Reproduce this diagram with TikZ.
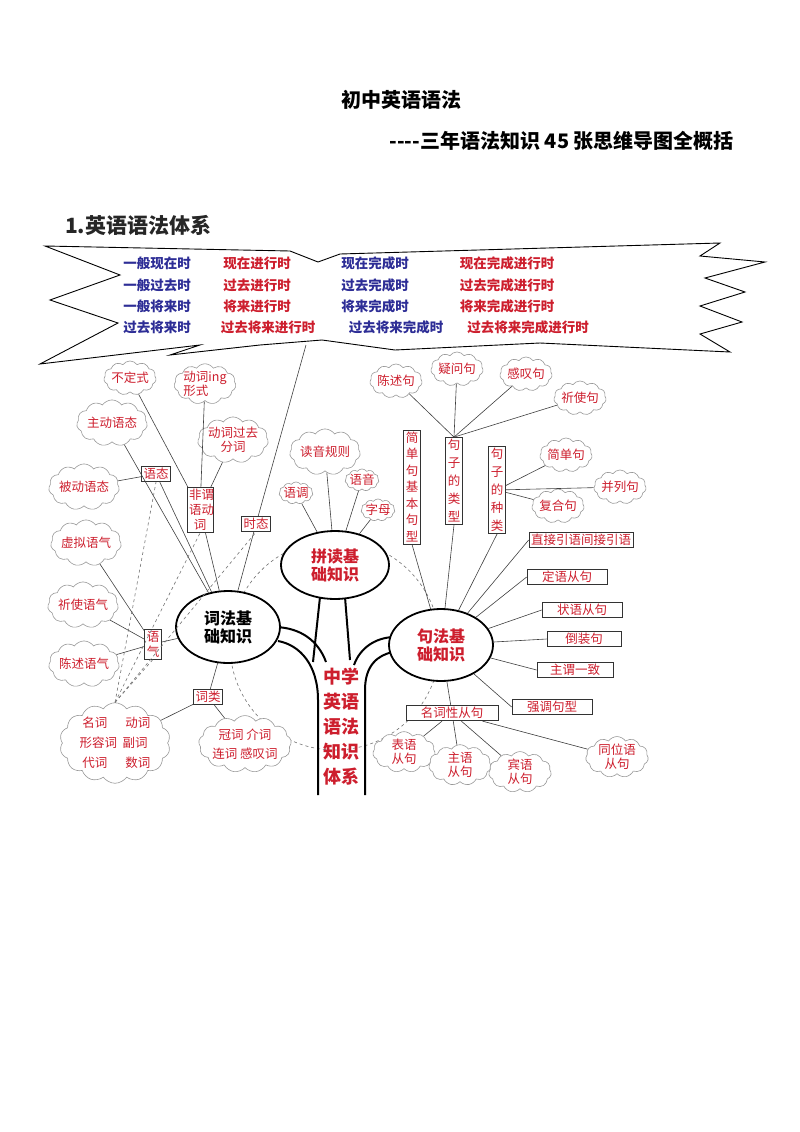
\documentclass[tikz,border=0pt]{standalone}
\usepackage{fontspec}
\setmainfont{Liberation Sans}
\newfontfamily\cjk{Noto Sans CJK SC}
\usetikzlibrary{shapes.symbols,shapes.geometric}
\definecolor{rd}{RGB}{205,30,45}
\definecolor{bl}{RGB}{45,45,150}
\tikzset{
 every node/.style={font=\cjk\fontsize{12.5}{14}\selectfont, text=rd, inner sep=1pt},
 cl/.style={cloud, cloud puffs=11, cloud puff arc=110, aspect=1.8, draw=gray!80, line width=0.6pt, inner sep=-1pt, fill=white},
 bx/.style={draw=black!80, line width=0.7pt, inner sep=2pt, fill=white},
 vb/.style={bx, align=center, text width=1.3em, font=\cjk\fontsize{12.5}{15}\selectfont},
 el/.style={ellipse, draw=black, line width=1.8pt, fill=white, align=center, font=\cjk\bfseries\fontsize{16}{18}\selectfont, minimum width=104pt, minimum height=72pt, inner sep=0pt},
 ln/.style={draw=black!75, line width=0.6pt},
 dl/.style={draw=black!55, line width=0.6pt, dashed},
 tk/.style={draw=black, line width=2pt},
 tb/.style={text=bl, font=\cjk\bfseries\fontsize{13.5}{15}\selectfont},
 tr/.style={text=rd, font=\cjk\bfseries\fontsize{13.5}{15}\selectfont},
}
\begin{document}
\begin{tikzpicture}[x=1pt,y=-1pt]
\useasboundingbox[fill=white] (0,0) rectangle (800,1132);
% titles
\node[text=black, font=\cjk\bfseries\fontsize{20}{22}\selectfont] (t1) at (401,100) {初中英语语法};
\node[text=black, font=\cjk\bfseries\fontsize{20}{22}\selectfont, anchor=east] (t2) at (735,141) {----三年语法知识 45 张思维导图全概括};
\node[text=black!85, font=\cjk\bfseries\fontsize{21}{23}\selectfont, anchor=west] (t3) at (64,225) {1.英语语法体系};
% bubble
\draw[black, line width=0.9pt, fill=white] (45,246) -- (290,251) -- (318,262) -- (340,254) -- (720,243) -- (700,256) -- (765,262) -- (705,278) -- (745,292) -- (700,306) -- (742,322) -- (700,334) -- (730,352) -- (540,343) -- (395,350) -- (322,340) -- (260,345) -- (170,355) -- (200,345) -- (40,364) -- (118,323) -- (50,300) -- (120,275) -- cycle;
\node[tb] (a1) at (157,263) {一般现在时}; \node[tr] (b1) at (257,263) {现在进行时}; \node[tb] (c1) at (375,263) {现在完成时}; \node[tr] (d1) at (507,263) {现在完成进行时};
\node[tb] (a2) at (157,285) {一般过去时}; \node[tr] (b2) at (257,285) {过去进行时}; \node[tb] (c2) at (375,285) {过去完成时}; \node[tr] (d2) at (507,285) {过去完成进行时};
\node[tb] (a3) at (157,306) {一般将来时}; \node[tr] (b3) at (257,306) {将来进行时}; \node[tb] (c3) at (375,306) {将来完成时}; \node[tr] (d3) at (507,306) {将来完成进行时};
\node[tb] (a4) at (157,327) {过去将来时}; \node[tr] (b4) at (268,327) {过去将来进行时}; \node[tb] (c4) at (396,327) {过去将来完成时}; \node[tr] (d4) at (528,327) {过去将来完成进行时};
\coordinate (bub) at (306,345);
% dashed circle
\draw[dl] (335,645) circle (105);
% trunk
\draw[tk] (276,627) .. controls (300,628) and (318,640) .. (326,662);
\draw[tk] (278,641) .. controls (300,645) and (318,665) .. (318,700) -- (318,795);
\draw[tk] (320,597) -- (313,662);
\draw[tk] (345,597) -- (350,660);
\draw[tk] (393,637) .. controls (375,638) and (360,648) .. (354,665);
\draw[tk] (393,652) .. controls (378,655) and (365,665) .. (365,690) -- (365,795);
\node[align=center, font=\cjk\bfseries\fontsize{18}{25}\selectfont] (trunk) at (341,727) {中学\\英语\\语法\\知识\\体系};
% ellipses
\node[el, text=black] (cf) at (228,627) {词法基\\础知识};
\node[el, minimum width=108pt, minimum height=68pt] (pd) at (335,565) {拼读基\\础知识};
\node[el] (jf) at (441,645) {句法基\\础知识};
% left branch
\node[bx] (yt) at (156,474) {语态};
\node[cl] (zd) at (112,423) {主动语态};
\node[cl] (bd) at (84,487) {被动语态};
\node[vb, text width=2.2em] (fw) at (200,510) {非谓\\语动\\词};
\node[cl] (bds) at (130,378) {不定式};
\node[cl, align=left] (ing) at (205,384) {动词ing\\形式};
\node[cl, align=center] (gq) at (233,440) {动词过去\\分词};
\node[bx] (st) at (256,524) {时态};
\node[vb] (yq) at (153,644) {语\\气};
\node[cl] (xn) at (86,543) {虚拟语气};
\node[cl] (qs) at (83,605) {祈使语气};
\node[cl] (cs) at (84,664) {陈述语气};
\node[bx] (cl1) at (208,697) {词类};
\node[cl, cloud puffs=14, aspect=1.5, align=left, font=\cjk\fontsize{12.5}{20}\selectfont] (big1) at (115,743) {\ 名词\quad\ \ 动词\\形容词\ \ 副词\\\ 代词\quad\ \ 数词};
\node[cl, cloud puffs=13, aspect=1.9, align=center, font=\cjk\fontsize{12.5}{19}\selectfont] (big2) at (245,744) {冠词\ 介词\\连词\ 感叹词};
\draw[ln] (zd) -- (cf); \draw[ln] (bd) -- (yt); \draw[ln] (yt) -- (cf);
\draw[ln] (bds) -- (fw); \draw[ln] (ing) -- (fw); \draw[ln] (gq) -- (fw); \draw[ln] (fw) -- (cf);
\draw[ln] (bub) -- (st); \draw[ln] (st) -- (cf);
\draw[ln] (xn) -- (yq); \draw[ln] (qs) -- (yq); \draw[ln] (cs) -- (yq); \draw[ln] (yq) -- (cf);
\draw[ln] (cf) -- (cl1); \draw[ln] (cl1) -- (big1); \draw[ln] (cl1) -- (big2);
\draw[dl] (big1.north) -- (yt.south); \draw[dl] (big1.north) -- (fw.south); \draw[dl] (big1.north) -- (st.south); \draw[dl] (big1.north) -- (yq.south);
% pindu
\node[cl] (dy) at (325,452) {读音规则};
\node[cl] (ydc) at (296,493) {语调};
\node[cl] (yy) at (362,480) {语音};
\node[cl] (zm) at (378,510) {字母};
\foreach \n in {dy,ydc,yy,zm} \draw[ln] (\n) -- (pd);
% jufa
\node[vb, font=\cjk\fontsize{12.5}{16.5}\selectfont] (jbj) at (412,487) {简\\单\\句\\基\\本\\句\\型};
\node[vb, font=\cjk\fontsize{12.5}{18}\selectfont] (jlx) at (454,481) {句\\子\\的\\类\\型};
\node[vb, font=\cjk\fontsize{12.5}{18}\selectfont] (jzl) at (497,490) {句\\子\\的\\种\\类};
\node[cl] (csj) at (396,381) {陈述句};
\node[cl] (ywj) at (457,369) {疑问句};
\node[cl] (gtj) at (526,374) {感叹句};
\node[cl] (qsj) at (580,398) {祈使句};
\node[cl] (jdj) at (566,455) {简单句};
\node[cl] (blj) at (620,487) {并列句};
\node[cl] (fhj) at (558,506) {复合句};
\foreach \n in {csj,ywj,gtj,qsj} \draw[ln] (\n) -- (jlx.north);
\foreach \n in {jdj,blj,fhj} \draw[ln] (jzl) -- (\n);
\foreach \n in {jbj,jlx,jzl} \draw[ln] (\n.south) -- (jf);
\node[bx] (zj) at (581,540) {直接引语间接引语};
\node[bx, minimum width=80pt] (dyc) at (567,577) {定语从句};
\node[bx, minimum width=80pt] (zyc) at (582,610) {状语从句};
\node[bx, minimum width=74pt] (dz) at (584,639) {倒装句};
\node[bx, minimum width=76pt] (zw) at (575,670) {主谓一致};
\node[bx, minimum width=80pt] (qd) at (552,707) {强调句型};
\foreach \n in {zj,dyc,zyc,dz,zw,qd} \draw[ln] (jf) -- (\n.west);
\node[bx, minimum width=92pt] (mc) at (452,713) {名词性从句};
\draw[ln] (jf) -- (mc);
\node[cl, align=center] (by) at (404,752) {表语\\从句};
\node[cl, align=center] (zy) at (460,765) {主语\\从句};
\node[cl, align=center] (byc) at (520,772) {宾语\\从句};
\node[cl, align=center] (tw) at (617,757) {同位语\\从句};
\foreach \n in {by,zy,byc,tw} \draw[ln] (mc) -- (\n);
\end{tikzpicture}
\end{document}
